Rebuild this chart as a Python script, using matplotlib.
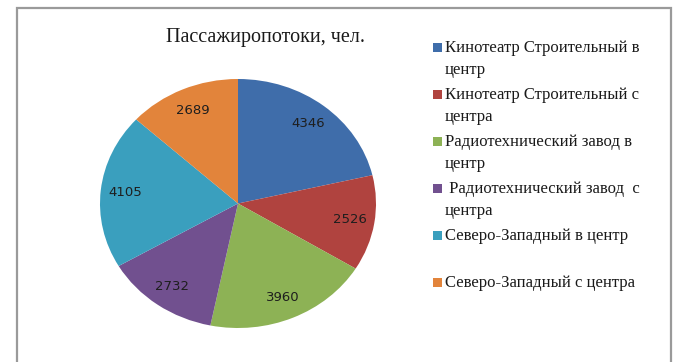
import matplotlib.pyplot as plt
from matplotlib.patches import Rectangle

# Passenger flows by stop and direction
categories = [
    "Кинотеатр Строительный в\nцентр",
    "Кинотеатр Строительный с\nцентра",
    "Радиотехнический завод в\nцентр",
    " Радиотехнический завод  с\nцентра",
    "Северо-Западный в центр",
    "Северо-Западный с центра",
]
passengers = [4346, 2526, 3960, 2732, 4105, 2689]
colors = ["#3F6DAA", "#B0433F", "#8DB255", "#71508F", "#3A9FBE", "#E2843B"]

W, H = 675, 362
fig = plt.figure(figsize=(W / 100, H / 100), dpi=100)
fig.patch.set_facecolor("white")


def fy(y):
    # pixel row measured from the top -> figure fraction
    return 1 - y / H


# chart frame, open at the bottom edge
fig.patches.append(Rectangle((17 / W, -0.05), (671 - 17) / W, (H - 8) / H + 0.05,
                             transform=fig.transFigure, fill=False,
                             edgecolor="#9A9A9A", linewidth=1.6))

total = sum(passengers)
ax = fig.add_axes([100 / W, (H - 328) / H, 276 / W, 249 / H])
wedges, texts, autotexts = ax.pie(
    passengers,
    colors=colors,
    startangle=90,
    counterclock=False,
    autopct=lambda p: f"{p * total / 100:.0f}",
    pctdistance=0.82,
    textprops={"fontsize": 9.5, "color": "#1E1E1E", "family": "DejaVu Sans"},
)
ax.set_aspect("auto")
ax.set_xlim(-1, 1)
ax.set_ylim(-1, 1)
ax.axis("off")

fig.text(266 / W, fy(42), "Пассажиропотоки, чел.", ha="center", va="baseline",
         family="Liberation Serif", fontsize=14.5, color="#1A1A1A")

# legend: one slot per category, each line placed on its own baseline
base0, step, line_gap = 52, 47, 22
for i, (label, col) in enumerate(zip(categories, colors)):
    base = base0 + i * step
    fig.patches.append(Rectangle((433 / W, fy(base)), 9 / W, 9 / H,
                                 transform=fig.transFigure, facecolor=col,
                                 edgecolor="none"))
    for k, line in enumerate(label.split("\n")):
        fig.text(445 / W, fy(base + k * line_gap), line, ha="left", va="baseline",
                 family="Liberation Serif", fontsize=12, color="#1A1A1A")

fig.savefig("out.png", dpi=100)
